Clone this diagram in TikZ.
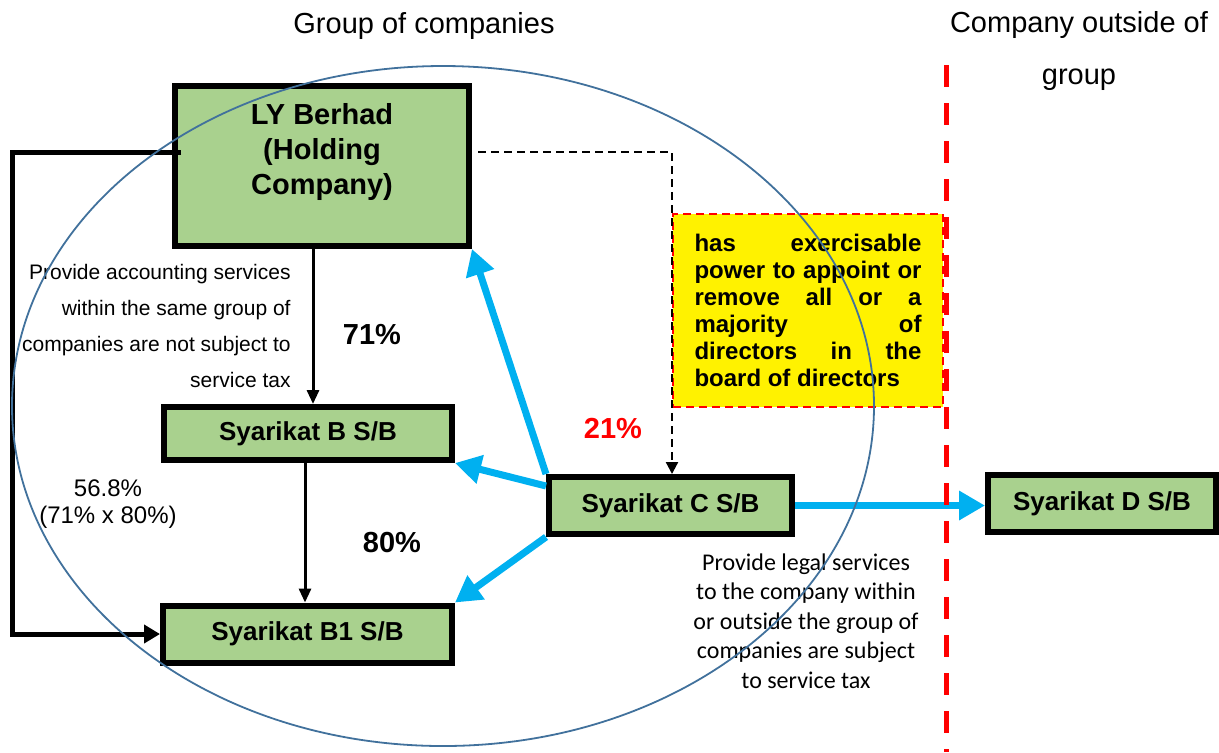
\documentclass[tikz,border=0pt]{standalone}
\usepackage{fontspec}
\setmainfont{Liberation Sans}
\newfontfamily\legalfont{Carlito}
\usetikzlibrary{
    arrows.meta,
    calc,
    positioning
}
\definecolor{boxgreen}{HTML}{A9D18E}
\definecolor{arrowblue}{HTML}{00B0F0}
\definecolor{ringblue}{HTML}{41719C}

\begin{document}
\begin{tikzpicture}[x=0.5pt, y=-0.5pt,
    company/.style={draw, line width=3pt, fill=boxgreen, inner sep=0pt,
        minimum height=28.5pt, font=\bfseries\fontsize{13}{15.5}\selectfont},
    owns/.style={line width=1.5pt, -{Triangle[length=7pt, width=6pt]}},
    service/.style={color=arrowblue, line width=3.5pt, -{Triangle[length=13pt, width=14pt]}},
    pct/.style={font=\bfseries\fontsize{14.5}{17}\selectfont},
    note/.style={font=\fontsize{10.5}{18}\selectfont, inner sep=0pt}]
                        \useasboundingbox (0,0) rectangle (1219,752);

                        \node[font=\fontsize{14.5}{26}\selectfont] (grptitle) at (424,26) {Group of companies};
                        \node[font=\fontsize{14.5}{26}\selectfont, align=center] (outtitle) at (1079,51) {Company outside of\\group};

                        \node[company, minimum width=147pt, minimum height=80pt, align=center,
                            font=\bfseries\fontsize{14.5}{17.5}\selectfont] (ly) at (322,166) {LY Berhad\\(Holding\\Company)\\\mbox{}};
                        \node[company, minimum width=144pt, minimum height=26.5pt] (sb) at (308,433.5) {Syarikat B S/B};
                        \node[company, minimum width=144.5pt] (sb1) at (307.5,634) {Syarikat B1 S/B};
                        \node[company, minimum width=121.5pt] (sc) at (670.5,505.5) {Syarikat C S/B};
                        \node[company, minimum width=114pt] (sd) at (1102,503.5) {Syarikat D S/B};

                        \node[draw=red, fill=yellow, line width=1pt, dash pattern=on 4pt off 2.5pt,
                            minimum width=135pt, minimum height=96.5pt, inner sep=0pt,
                            text width=113.5pt, align=justify,
                            font=\bfseries\fontsize{12}{13.5}\selectfont] (power) at (808,310.5)
                            {has exercisable\linebreak power to appoint or\linebreak remove all or a\linebreak
                             majority of\linebreak directors in the\linebreak board of directors};

                        \node[note, align=right, anchor=east] (acctnote) at (291,325.5)
                            {Provide accounting services\\within the same group of\\companies are not subject to\\service tax};
                        \node[pct] (p71) at (372,335) {71\%};
                        \node[pct] (p80) at (392,542) {80\%};
                        \node[pct, text=red] (p21) at (613,428) {21\%};
                        \node[font=\fontsize{12}{13.5}\selectfont, align=center] (p568) at (108,504) {56.8\%\\(71\% x 80\%)};
                        \node[font=\legalfont\fontsize{12}{14.75}\selectfont, align=center] (legalnote) at (806,621)
                            {Provide legal services\\to the company within\\or outside the group of\\companies are subject\\to service tax};

                        \draw
                        ([xshift=-4.5pt]ly.south) edge[owns] ([xshift=2.5pt]sb.north)
                        ([xshift=-1.5pt]sb.south) edge[owns] ([xshift=-1.25pt]sb1.north);

                        \draw[line width=2.5pt, -{Triangle[length=8pt, width=9pt]}]
                            ([xshift=4.5pt, yshift=7pt]ly.west) -| ([xshift=-74pt]sb1.west) -- (sb1.west);
                        \draw[line width=1.1pt, dash pattern=on 4pt off 2.5pt, -{Triangle[length=6pt, width=6pt]}]
                            ([xshift=3pt, yshift=7pt]ly.east) -| ([xshift=0.75pt]sc.north);

                        \draw
                        (sc.north west) edge[service] (ly.south east)
                        ([yshift=-6pt]sc.north west) edge[service] (sb.south east)
                        (sc.south west) edge[service] (sb1.north east)
                        (sc.east) edge[service] (sc.east -| sd.west);

                        \draw[red, line width=2.5pt, dash pattern=on 11pt off 8pt] (946,65) -- (946,752);
                        \draw[ringblue, line width=0.9pt] (443,406) ellipse [x radius=431, y radius=340];
                    \end{tikzpicture}
\end{document}
